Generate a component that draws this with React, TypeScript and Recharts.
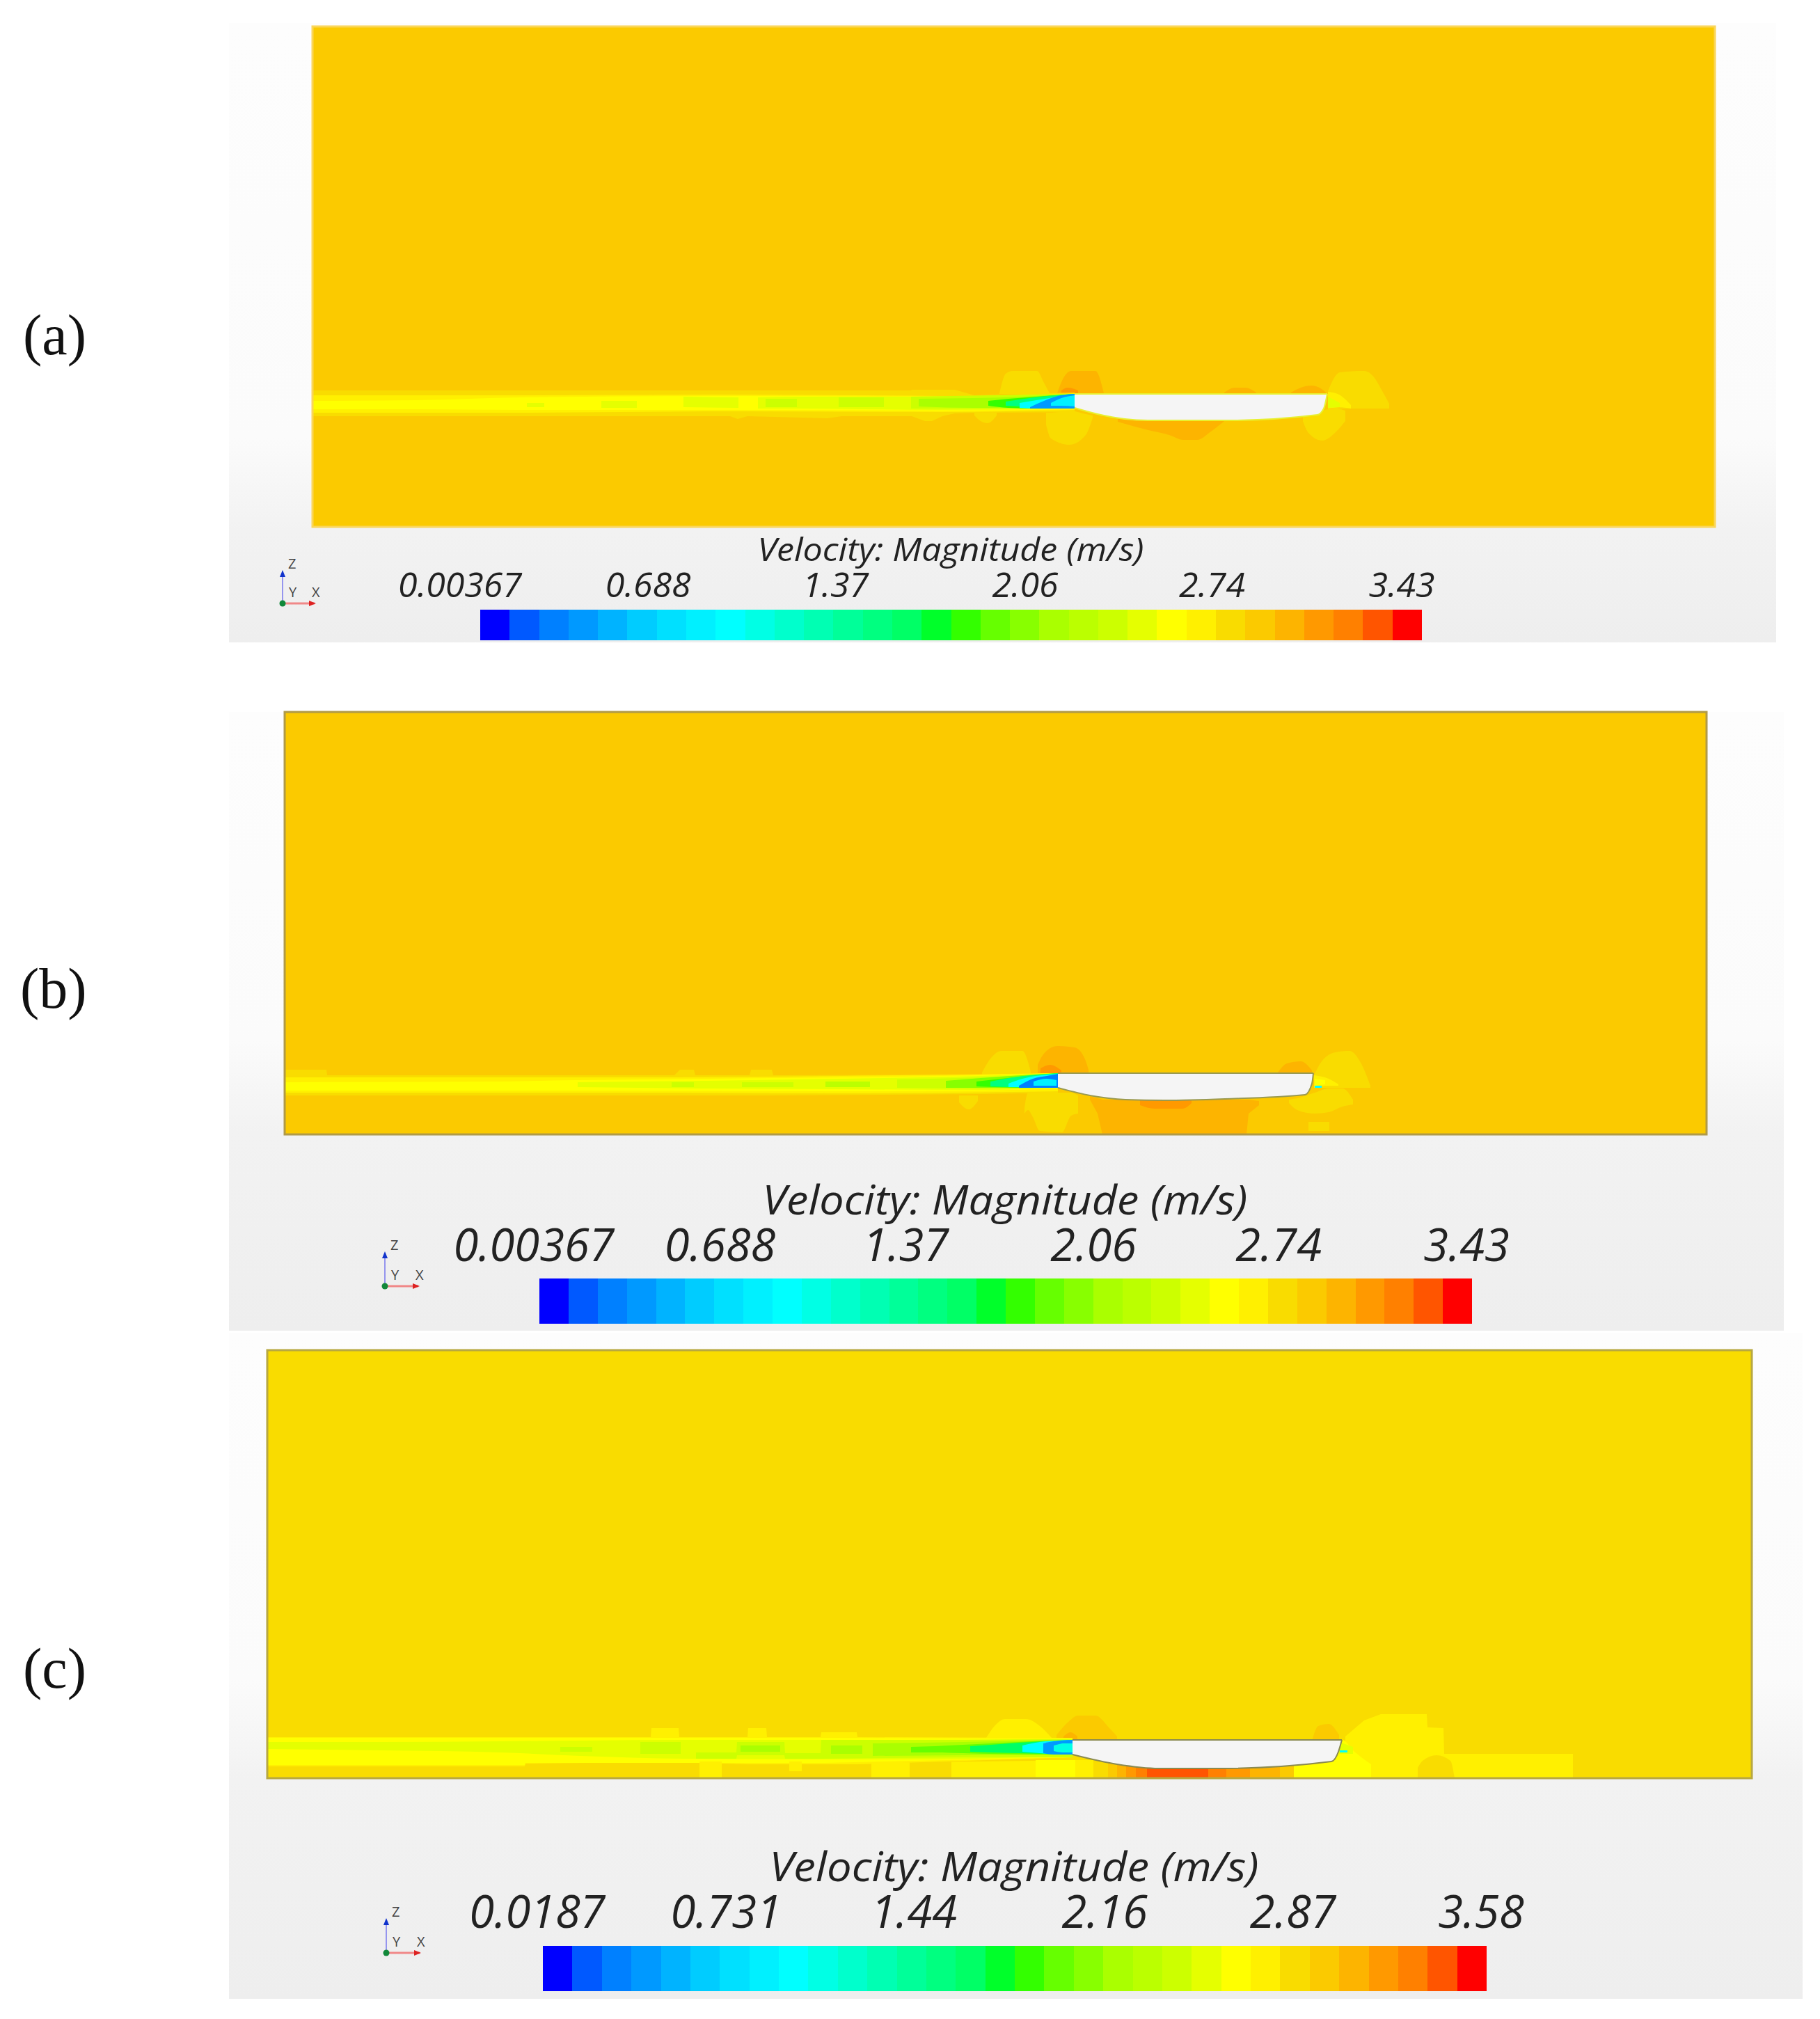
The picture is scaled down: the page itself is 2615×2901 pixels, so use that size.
import { Area, Bar, BarChart, ComposedChart, Line, ReferenceArea, Scatter, XAxis, YAxis } from 'recharts';

// velocity colour map, one entry per band of the legend
const bandColors = [
  '#0000ff', '#0059ff', '#0080ff', '#0099ff', '#00b3ff', '#00ccff', '#00e0ff', '#00f0ff',
  '#00ffff', '#00ffe5', '#00ffcc', '#00ffb3', '#00ff99', '#00ff80', '#00ff66', '#00ff2a',
  '#33ff00', '#66ff00', '#88ff00', '#aaff00', '#bbff00', '#ccff00', '#e5ff00', '#ffff00',
  '#fff000', '#f9dc00', '#fbca00', '#fdb400', '#ff9900', '#ff8000', '#ff5500', '#ff0000',
];

const ticksA = [0.00367, 0.688, 1.37, 2.06, 2.74, 3.43];
const ticksB = [0.00367, 0.688, 1.37, 2.06, 2.74, 3.43];
const ticksC = [0.0187, 0.731, 1.44, 2.16, 2.87, 3.58];
const legendTitle = 'Velocity: Magnitude (m/s)';

// contours are [distance along tank, lower height, upper height]
type Row = number[];

// (a)
const aHull: Row[] = [[1095, 171, 191], [1128, 162, 191], [1167, 155, 191], [1200, 153, 191], [1315, 153, 191], [1444, 161, 191], [1453, 170, 191], [1458, 191, 191]];
const aWakeOuter: Row[] = [[0, 159, 196], [600, 159, 196], [611, 155, 196], [625, 159, 196], [740, 156, 196], [760, 159, 196], [860, 159, 196], [861, 159, 197], [880, 152, 197], [890, 152, 197], [905, 159, 197], [923, 163, 197], [951, 164, 189], [1095, 165, 193]];
const aWakeMid: Row[] = [[0, 164, 189], [300, 164, 189], [600, 166, 190], [900, 165, 188], [1000, 166, 187], [1095, 168, 192]];
const aWakeCore: Row[] = [[0, 169, 181], [150, 169, 182], [300, 168, 186], [600, 168, 188], [900, 167, 187], [1095, 169, 191]];
const aTintLeft1: Row[] = [[308, 172, 178], [333, 172, 178]];
const aTintLeft2: Row[] = [[415, 171, 181], [466, 171, 181]];
const aTint1: Row[] = [[533, 172, 187], [612, 171, 186]];
const aTint2: Row[] = [[640, 170, 186], [700, 170, 187], [900, 168, 187], [1095, 170, 191]];
const aGreen1: Row[] = [[651, 172, 184], [696, 172, 184]];
const aGreen2: Row[] = [[756, 172, 186], [821, 172, 186]];
const aGreen3: Row[] = [[860, 170, 187], [1095, 170, 191]];
const aGreen4: Row[] = [[871, 173, 184], [950, 171, 185], [1020, 171, 187], [1095, 170, 191]];
const aGreen5: Row[] = [[971, 174, 181], [1000, 171, 184], [1040, 170, 187], [1095, 170, 191]];
const aSpring: Row[] = [[996, 174, 180], [1030, 172, 185], [1095, 170, 191]];
const aCyan: Row[] = [[1016, 171, 178], [1040, 170, 182], [1095, 170, 191]];
const aBlue: Row[] = [[1031, 170, 172], [1051, 170, 181], [1071, 170, 188], [1095, 170, 191]];
const aPocket: Row[] = [[1061, 174, 178], [1076, 174, 185], [1095, 173, 189]];
const aBowYellow: Row[] = [[987, 191, 192], [996, 191, 220], [1006, 191, 224], [1041, 191, 224], [1051, 191, 207], [1059, 191, 192]];
const aBowOrange: Row[] = [[1070, 191, 192], [1077, 191, 210], [1090, 191, 224], [1125, 191, 224], [1137, 191, 192]];
const aBowDark: Row[] = [[1076, 192, 196], [1085, 192, 200], [1100, 192, 196]];
const aTopSmall: Row[] = [[1310, 190, 193], [1325, 190, 200], [1340, 190, 200], [1356, 190, 193]];
const aTopStern: Row[] = [[1406, 190, 193], [1420, 190, 200], [1435, 190, 203], [1450, 190, 198], [1456, 190, 193]];
const aSternYellow: Row[] = [[1459, 170, 195], [1476, 170, 222], [1511, 170, 224], [1526, 170, 214], [1536, 170, 197], [1547, 170, 177]];
const aSternBright: Row[] = [[1459, 170, 194], [1475, 172, 190], [1492, 170, 175]];
const aSternTint: Row[] = [[1459, 171, 187], [1476, 172, 178]];
const aLowerStern: Row[] = [[1423, 152, 161], [1431, 135, 160], [1451, 124, 167], [1471, 137, 170], [1484, 152, 167]];
const aLowerBow: Row[] = [[1054, 147, 164], [1061, 127, 164], [1088, 118, 167], [1111, 132, 162], [1121, 157, 160]];
const aLowerSmall: Row[] = [[951, 160, 164], [960, 152, 164], [970, 149, 164], [983, 160, 164]];
const aBelly: Row[] = [[1157, 151, 155], [1201, 139, 155], [1231, 132, 155], [1251, 125, 155], [1271, 125, 155], [1291, 137, 155], [1310, 152, 155]];

// (b)
const bHull: Row[] = [[1111, 67, 88], [1157, 56, 88], [1208, 50, 88], [1264, 49, 88], [1351, 51, 88], [1466, 57, 88], [1476, 73, 88], [1478, 88, 88]];
const bWakeOuter: Row[] = [[0, 56, 93], [60, 56, 93], [61, 56, 85], [560, 56, 85], [568, 56, 93], [588, 56, 93], [590, 56, 85], [668, 56, 85], [670, 56, 93], [700, 56, 93], [702, 56, 85], [1000, 58, 86], [1111, 60, 88]];
const bWakeMid: Row[] = [[0, 60, 82], [500, 60, 82], [800, 59, 84], [1111, 62, 88]];
const bWakeCore: Row[] = [[0, 63, 75], [300, 63, 76], [420, 63, 78], [800, 62, 82], [1000, 63, 85], [1111, 66, 88]];
const bTint: Row[] = [[421, 68, 75], [600, 66, 77], [800, 65, 80], [1000, 64, 84], [1111, 67, 88]];
const bGreen1: Row[] = [[556, 68, 75], [588, 68, 75]];
const bGreen2: Row[] = [[657, 68, 75], [731, 68, 75]];
const bGreen3: Row[] = [[777, 68, 76], [841, 68, 76]];
const bGreen4: Row[] = [[880, 67, 79], [1000, 66, 82], [1111, 67, 88]];
const bGreen5: Row[] = [[950, 67, 77], [1000, 67, 81], [1111, 67, 88]];
const bGreen6: Row[] = [[994, 69, 76], [1020, 68, 79], [1111, 67, 88]];
const bSpring: Row[] = [[1014, 69, 76], [1040, 68, 81], [1111, 67, 88]];
const bCyan: Row[] = [[1040, 68, 73], [1060, 68, 80], [1111, 67, 87]];
const bBlue: Row[] = [[1055, 67, 70], [1075, 67, 80], [1095, 67, 84], [1111, 67, 87]];
const bPocket: Row[] = [[1076, 70, 76], [1095, 70, 80], [1109, 70, 78]];
const bBowYellow: Row[] = [[1002, 86, 89], [1015, 86, 110], [1030, 86, 120], [1060, 86, 120], [1072, 86, 90]];
const bBowOrange: Row[] = [[1082, 88, 100], [1090, 88, 115], [1110, 88, 127], [1135, 88, 125], [1150, 88, 108], [1155, 88, 93]];
const bBowDark: Row[] = [[1086, 88, 95], [1100, 88, 100], [1116, 88, 92]];
const bTopStern: Row[] = [[1427, 86, 89], [1440, 86, 102], [1460, 86, 105], [1476, 86, 92]];
const bSternYellow: Row[] = [[1479, 75, 85], [1490, 67, 105], [1510, 67, 118], [1530, 67, 120], [1545, 67, 105], [1560, 67, 70]];
const bSternLow: Row[] = [[1443, 45, 50], [1455, 35, 52], [1480, 30, 60], [1500, 32, 66], [1520, 40, 66], [1535, 43, 50]];
const bSternFoot: Row[] = [[1471, 5, 18], [1501, 5, 18]];
const bSternBright: Row[] = [[1479, 67, 85], [1500, 70, 80], [1514, 70, 72]];
const bSternCore: Row[] = [[1480, 70, 80], [1495, 72, 78]];
const bSternCyan: Row[] = [[1480, 67, 70], [1490, 67, 70]];
const bLowerBow: Row[] = [[1063, 30, 38], [1068, 35, 60], [1075, 25, 60], [1085, 5, 60], [1117, 3, 60], [1130, 27, 60], [1140, 30, 56]];
const bLowerSmall: Row[] = [[969, 46, 56], [983, 36, 56], [996, 48, 56]];
const bBelly: Row[] = [[1157, 50, 55], [1168, 30, 52], [1175, 0, 50], [1382, 0, 50], [1385, 30, 50], [1400, 42, 48]];
const bBellyDark: Row[] = [[1229, 42, 50], [1250, 37, 50], [1290, 37, 50], [1303, 45, 50]];

// (c)
const cHull: Row[] = [[1157, 34, 55], [1221, 20, 55], [1281, 14, 55], [1368, 14, 55], [1529, 24, 55], [1539, 38, 55], [1544, 55, 55]];
const cWakeOuter: Row[] = [[0, 17, 59], [370, 17, 59], [371, 21, 59], [536, 23, 59], [551, 23, 59], [552, 23, 72], [591, 23, 72], [592, 23, 59], [690, 20, 59], [691, 20, 72], [717, 20, 72], [718, 20, 59], [795, 20, 59], [796, 20, 66], [847, 20, 66], [848, 20, 59], [1157, 30, 58]];
const cWakeCore: Row[] = [[0, 19, 58], [370, 19, 58], [371, 22, 58], [800, 22, 58], [1157, 30, 57]];
const cWakeFoot1: Row[] = [[621, 0, 24], [653, 0, 24]];
const cWakeFoot2: Row[] = [[750, 10, 24], [768, 10, 24]];
const cWakeTint: Row[] = [[0, 42, 52], [163, 40, 52], [335, 37, 53], [450, 32, 54], [600, 28, 55], [900, 27, 55], [1157, 32, 56]];
const cGreen1: Row[] = [[421, 38, 45], [467, 38, 45]];
const cGreen2: Row[] = [[536, 35, 52], [594, 35, 52]];
const cGreen3: Row[] = [[616, 28, 37], [674, 28, 37], [675, 33, 52], [743, 33, 52], [744, 28, 36], [795, 28, 36], [796, 28, 55], [1000, 30, 55], [1157, 30, 56]];
const cGreen4: Row[] = [[680, 38, 47], [737, 38, 47]];
const cGreen5: Row[] = [[810, 35, 47], [855, 35, 47]];
const cGreen6: Row[] = [[870, 32, 50], [1000, 33, 52], [1100, 34, 54], [1157, 34, 55]];
const cGreen7: Row[] = [[925, 37, 45], [960, 37, 46], [1000, 36, 48], [1100, 34, 53], [1157, 34, 55]];
const cSpring: Row[] = [[1010, 38, 46], [1040, 37, 48], [1080, 36, 51], [1157, 34, 55]];
const cCyan: Row[] = [[1085, 38, 47], [1110, 36, 52], [1157, 34, 55]];
const cBlue: Row[] = [[1115, 36, 50], [1130, 34, 53], [1157, 34, 55]];
const cPocket: Row[] = [[1130, 39, 47], [1145, 37, 50], [1157, 37, 50]];
const cBowYellow: Row[] = [[1033, 56, 58], [1045, 56, 75], [1060, 56, 85], [1090, 56, 85], [1110, 56, 75], [1127, 56, 58]];
const cBowOrange: Row[] = [[1134, 56, 62], [1150, 56, 80], [1165, 56, 90], [1190, 56, 90], [1210, 56, 72], [1221, 56, 60]];
const cBowDark: Row[] = [[1144, 56, 60], [1154, 56, 66], [1164, 56, 60]];
const cTopStern: Row[] = [[1502, 54, 57], [1510, 54, 75], [1525, 54, 78], [1540, 54, 62]];
const cSternField: Row[] = [[1549, 0, 60], [1576, 0, 83], [1600, 0, 92], [1666, 0, 92], [1667, 0, 73], [1690, 0, 72], [1691, 0, 35], [1876, 0, 35]];
const cSternArch: Row[] = [[1653, 0, 15], [1660, 0, 25], [1680, 0, 33], [1700, 0, 25], [1706, 0, 0]];
const cSternCore: Row[] = [[1475, 0, 18], [1530, 0, 24], [1545, 0, 55], [1560, 0, 40], [1586, 0, 20]];
const cSternTint: Row[] = [[1540, 35, 52], [1560, 35, 45]];
const cSternCyan: Row[] = [[1541, 37, 40], [1552, 37, 40]];
const cFloorLeft: Row[] = [[868, 0, 22], [1104, 0, 25]];
const cFloorArch: Row[] = [[923, 0, 25], [983, 0, 25]];
const cFloorCore: Row[] = [[1104, 0, 26], [1161, 0, 26]];
const cFloor24: Row[] = [[1161, 0, 26], [1187, 0, 26]];
const cFloor25: Row[] = [[1187, 0, 24], [1208, 0, 24], [1482, 0, 24], [1502, 0, 24]];
const cFloor26: Row[] = [[1208, 0, 24], [1455, 0, 24], [1482, 0, 24]];
const cFloor27: Row[] = [[1221, 0, 24], [1455, 0, 24]];
const cFloor28: Row[] = [[1234, 0, 24], [1412, 0, 24]];
const cFloor29: Row[] = [[1248, 0, 24], [1378, 0, 24]];
const cFloor30: Row[] = [[1264, 0, 24], [1352, 0, 24]];

// contour draw order with the legend band of each one
const contoursA: [Row[], number][] = [
  [aBowYellow, 25], [aBowOrange, 27], [aBowDark, 28], [aTopSmall, 27], [aTopStern, 27], [aSternYellow, 25],
  [aSternBright, 24], [aSternTint, 22], [aLowerStern, 25], [aLowerBow, 25], [aLowerSmall, 25], [aBelly, 27],
  [aWakeOuter, 25], [aWakeMid, 24], [aWakeCore, 23], [aTintLeft1, 22], [aTintLeft2, 22], [aTint1, 22], [aTint2, 22],
  [aGreen1, 21], [aGreen2, 21], [aGreen3, 21], [aGreen4, 19], [aGreen5, 16], [aSpring, 13], [aCyan, 8], [aBlue, 3], [aPocket, 7],
];
const contoursB: [Row[], number][] = [
  [bBowYellow, 25], [bBowOrange, 27], [bBowDark, 28], [bTopStern, 27], [bSternYellow, 25], [bSternLow, 25], [bSternFoot, 25],
  [bSternBright, 24], [bSternCore, 23], [bSternCyan, 8], [bLowerBow, 25], [bLowerSmall, 25], [bBelly, 27], [bBellyDark, 28],
  [bWakeOuter, 25], [bWakeMid, 24], [bWakeCore, 23], [bTint, 22], [bGreen1, 21], [bGreen2, 21], [bGreen3, 20],
  [bGreen4, 21], [bGreen5, 18], [bGreen6, 16], [bSpring, 13], [bCyan, 8], [bBlue, 2], [bPocket, 7],
];
const contoursC: [Row[], number][] = [
  [cSternField, 24], [cSternArch, 25], [cBowYellow, 24], [cBowOrange, 26], [cBowDark, 27], [cTopStern, 26],
  [cFloorLeft, 24], [cFloorArch, 25], [cFloorCore, 23], [cFloor24, 24], [cFloor25, 25], [cFloor26, 26], [cFloor27, 27],
  [cFloor28, 28], [cFloor29, 29], [cFloor30, 30], [cSternCore, 23], [cSternTint, 22], [cSternCyan, 8],
  [cWakeOuter, 24], [cWakeCore, 23], [cWakeFoot1, 24], [cWakeFoot2, 24], [cWakeTint, 22], [cGreen1, 21], [cGreen2, 21], [cGreen3, 21],
  [cGreen4, 19], [cGreen5, 19], [cGreen6, 19], [cGreen7, 17], [cSpring, 14], [cCyan, 8], [cBlue, 3], [cPocket, 9],
];

// contours of these lists keep their square steps
const steppedContours: Row[][] = [aWakeOuter, bWakeOuter, cWakeOuter, cWakeCore, cGreen3, cSternField, cFloorLeft, bBelly];

const FONT = '"Open Sans", "Noto Sans", sans-serif';
const PAD = 3;

type FieldProps = {
  left: number; top: number; width: number; height: number;
  base: number; contours: [Row[], number][]; hull: Row[]; edge: string; hullEdge: string;
};

function rows(list: Row[]) {
  return list.map(([x, lo, hi]) => ({ x, range: [lo, hi] }));
}

function VelocityField({ left, top, width, height, base, contours, hull, edge, hullEdge }: FieldProps) {
  return (
    <div style={{ position: 'absolute', left: left - PAD, top: top - PAD }}>
      <ComposedChart width={width + PAD * 2} height={height + PAD * 2} margin={{ top: PAD, right: PAD, bottom: PAD, left: PAD }}>
        <XAxis type="number" dataKey="x" domain={[0, width]} hide allowDataOverflow />
        <YAxis type="number" domain={[0, height]} hide allowDataOverflow />
        <Area
          data={rows([[0, 0, height], [width, 0, height]])}
          dataKey="range"
          fill={bandColors[base]}
          fillOpacity={1}
          stroke="none"
          isAnimationActive={false}
          dot={false}
          activeDot={false}
        />
        {contours.map(([list, band], i) => (
          <Area
            key={i}
            data={rows(list)}
            dataKey="range"
            type={steppedContours.includes(list) ? 'linear' : 'monotoneX'}
            fill={bandColors[band]}
            fillOpacity={1}
            stroke="none"
            isAnimationActive={false}
            dot={false}
            activeDot={false}
          />
        ))}
        <Area
          data={rows(hull)}
          dataKey="range"
          type="monotoneX"
          fill="#f5f5f5"
          fillOpacity={1}
          stroke={hullEdge}
          strokeWidth={2}
          isAnimationActive={false}
          dot={false}
          activeDot={false}
        />
        <ReferenceArea x1={0} x2={width} y1={0} y2={height} fill="none" stroke={edge} strokeWidth={3} ifOverflow="visible" />
      </ComposedChart>
    </div>
  );
}

type LegendProps = {
  left: number; top: number; width: number; height: number;
  ticks: number[]; fontSize: number; gap: number; shift: number;
  titleX: number; titleY: number; titleSize: number; titleWidth: number; headroom: number;
};

function VelocityLegend({ left, top, width, height, ticks, fontSize, gap, shift, titleX, titleY, titleSize, titleWidth, headroom }: LegendProps) {
  const min = ticks[0];
  const max = ticks[ticks.length - 1];
  const step = (max - min) / bandColors.length;
  const row: Record<string, number | string> = { name: 'velocity' };
  bandColors.forEach((_, i) => {
    row[`b${i}`] = i === 0 ? min + step : step;
  });
  const side = 160;
  const renderTick = (props: any) => (
    <text
      x={props.x + shift}
      y={props.y}
      textAnchor="middle"
      fontFamily={FONT}
      fontStyle="italic"
      fontSize={fontSize}
      fill="#222"
    >
      {props.payload.value}
    </text>
  );
  return (
    <div style={{ position: 'absolute', left: left - side, top: top - headroom }}>
      <BarChart
        width={width + side * 2}
        height={height + headroom}
        layout="vertical"
        data={[row]}
        barCategoryGap={0}
        margin={{ top: 0, right: side, bottom: 0, left: side }}
      >
        <XAxis
          type="number"
          orientation="top"
          domain={[min, max]}
          ticks={ticks}
          interval={0}
          height={headroom}
          tick={renderTick}
          tickSize={0}
          tickMargin={gap}
          axisLine={false}
          tickLine={false}
          allowDataOverflow
        />
        <YAxis type="category" dataKey="name" hide />
        {bandColors.map((color, i) => (
          <Bar key={i} dataKey={`b${i}`} stackId="bar" fill={color} isAnimationActive={false} shapeRendering="crispEdges" />
        ))}
        <text
          x={titleX - left + side}
          y={titleY - top + headroom}
          textAnchor="middle"
          fontFamily={FONT}
          fontStyle="italic"
          fontSize={titleSize}
          fill="#222"
          textLength={titleWidth}
          lengthAdjust="spacingAndGlyphs"
        >
          {legendTitle}
        </text>
      </BarChart>
    </div>
  );
}

const triadZ = [{ x: 0, y: 0 }, { x: 0, y: 1 }];
const triadX = [{ x: 0, y: 0 }, { x: 1, y: 0 }];

function Triad({ left, top, size }: { left: number; top: number; size: number }) {
  const head = (color: string, up: boolean) => (props: any) => {
    const { cx, cy } = props;
    const pts = up
      ? `${cx - 4},${cy + 8} ${cx + 4},${cy + 8} ${cx},${cy - 2}`
      : `${cx - 8},${cy - 4} ${cx - 8},${cy + 4} ${cx + 2},${cy}`;
    return <polygon points={pts} fill={color} />;
  };
  const m = { top: 30, right: 24, bottom: 8, left: 8 };
  const labelStyle = { fontFamily: FONT, fontSize: 20, fill: '#444' };
  return (
    <div style={{ position: 'absolute', left: left - m.left, top: top - size - m.top }}>
      <ComposedChart width={size + m.left + m.right} height={size + m.top + m.bottom} margin={m}>
        <XAxis type="number" dataKey="x" domain={[0, 1]} hide />
        <YAxis type="number" dataKey="y" domain={[0, 1]} hide />
        <Line data={triadZ} dataKey="y" stroke="#7777ee" strokeWidth={1.5} dot={false} isAnimationActive={false} />
        <Line data={triadX} dataKey="y" stroke="#f08888" strokeWidth={3} dot={false} isAnimationActive={false} />
        <Scatter data={[triadZ[1]]} dataKey="y" shape={head('#1133cc', true)} isAnimationActive={false} />
        <Scatter data={[triadX[1]]} dataKey="y" shape={head('#dd2222', false)} isAnimationActive={false} />
        <Scatter data={[triadX[0]]} dataKey="y" fill="#11883a" shape="circle" isAnimationActive={false} />
        <text x={m.left + 8} y={m.top - 4} style={labelStyle}>Z</text>
        <text x={m.left + 9} y={m.top + size - 9} style={labelStyle}>Y</text>
        <text x={m.left + size - 4} y={m.top + size - 9} style={labelStyle}>X</text>
      </ComposedChart>
    </div>
  );
}

function Backdrop({ left, top, right, bottom, strip }: { left: number; top: number; right: number; bottom: number; strip: number }) {
  return (
    <div
      style={{
        position: 'absolute',
        left,
        top,
        width: right - left,
        height: bottom - top,
        background: `linear-gradient(#fdfdfd, #fbfbfb ${strip - 15}%, #f2f2f2 ${strip}%, #eeeeee)`,
      }}
    />
  );
}

function PanelLabel({ text, left, middle }: { text: string; left: number; middle: number }) {
  return (
    <div
      style={{
        position: 'absolute',
        left,
        top: middle - 50,
        height: 100,
        lineHeight: '100px',
        fontFamily: '"Liberation Serif", serif',
        fontSize: 82,
        color: '#111',
      }}
    >
      {text}
    </div>
  );
}

export default function App() {
  return (
    <div style={{ position: 'absolute', left: 0, top: 0, width: 2615, height: 2901, background: '#fff', overflow: 'hidden' }}>
      <Backdrop left={329} top={33} right={2552} bottom={923} strip={82} />
      <Backdrop left={329} top={1023} right={2563} bottom={1912} strip={68} />
      <Backdrop left={329} top={1915} right={2590} bottom={2872} strip={67} />

      <PanelLabel text="(a)" left={33} middle={482} />
      <PanelLabel text="(b)" left={29} middle={1421} />
      <PanelLabel text="(c)" left={33} middle={2398} />

      <VelocityField left={449} top={38} width={2015} height={719} base={26} contours={contoursA} hull={aHull} edge="#fad65a" hullEdge="#e8f030" />
      <VelocityField left={409} top={1023} width={2043} height={607} base={26} contours={contoursB} hull={bHull} edge="#b09a48" hullEdge="#9a9a50" />
      <VelocityField left={384} top={1940} width={2133} height={615} base={25} contours={contoursC} hull={cHull} edge="#b8a840" hullEdge="#8a8a50" />

      <VelocityLegend left={690} top={876} width={1353} height={44} ticks={ticksA} fontSize={50} gap={18} shift={-29} titleX={1366} titleY={806} titleSize={46} titleWidth={555} headroom={140} />
      <VelocityLegend left={775} top={1837} width={1340} height={65} ticks={ticksB} fontSize={65} gap={25} shift={-8} titleX={1444} titleY={1745} titleSize={58} titleWidth={697} headroom={170} />
      <VelocityLegend left={780} top={2796} width={1356} height={65} ticks={ticksC} fontSize={65} gap={26} shift={-8} titleX={1457} titleY={2703} titleSize={58} titleWidth={703} headroom={170} />

      <Triad left={406} top={867} size={46} />
      <Triad left={553} top={1848} size={48} />
      <Triad left={555} top={2806} size={48} />
    </div>
  );
}
